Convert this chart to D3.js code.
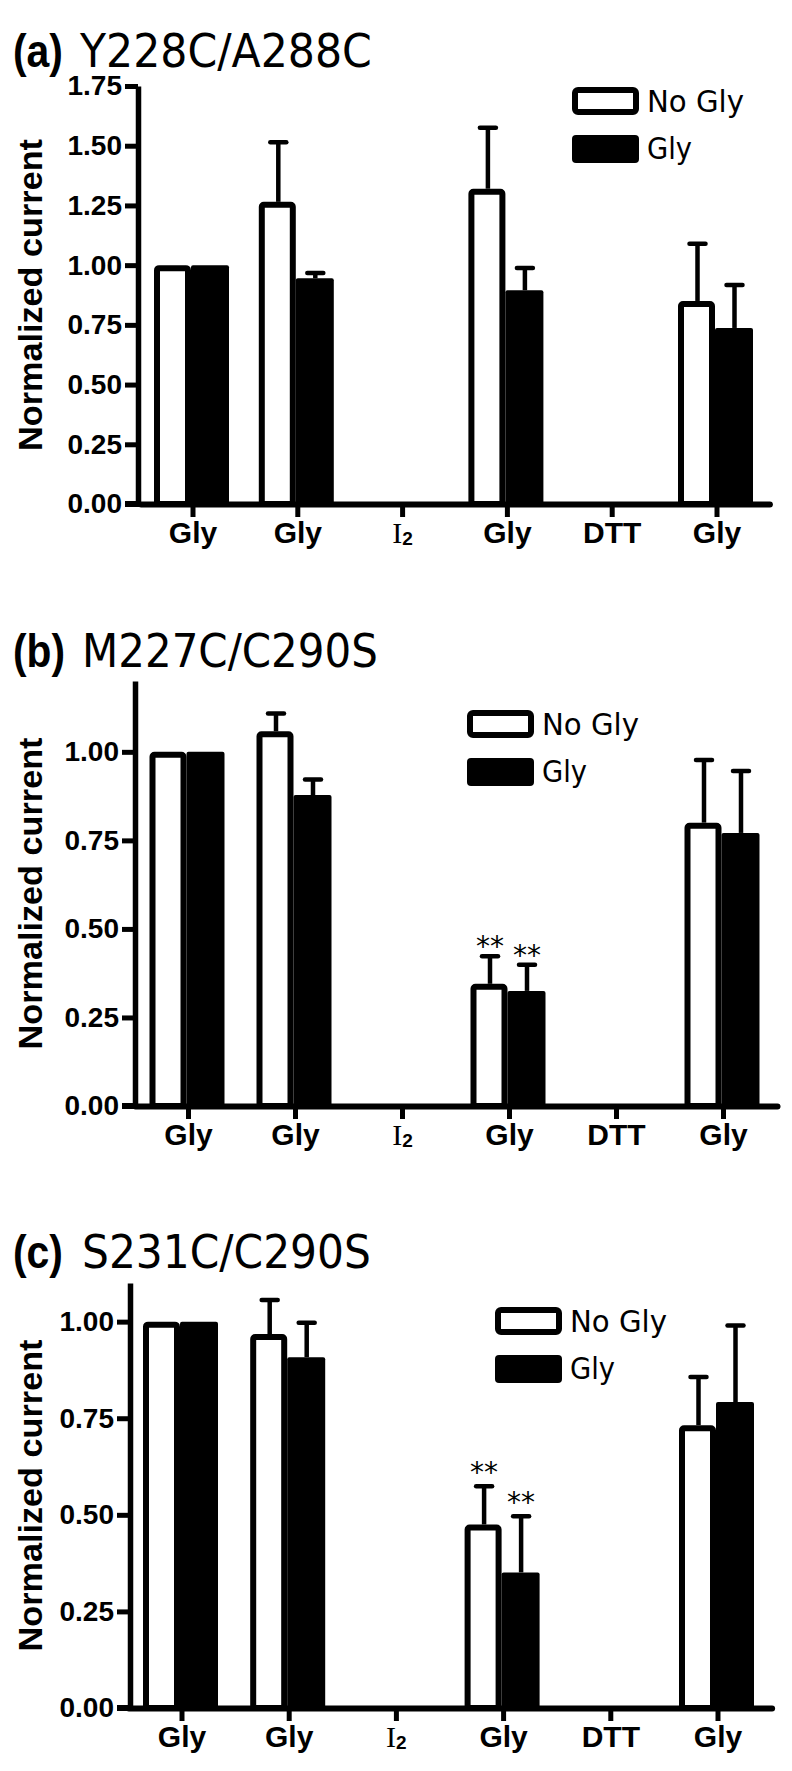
<!DOCTYPE html>
<html lang="en">
<head>
<meta charset="UTF-8">
<title>Normalized current</title>
<script src="https://d3js.org/d3.v7.min.js"></script>
<style>
  body { margin: 0; background: #fff; }
  svg { display: block; background: #fff; }
  .axis text { font-family: "Liberation Sans", Arial, sans-serif; font-weight: bold; fill: #000; }
  .axis path, .axis line { stroke: #000; }
</style>
</head>
<body>
<svg id="chart" width="792" height="1771"></svg>
<script>
// x categories (index 2 is I2, drawn with a subscript)
var categories = ["Gly", "Gly", "I2", "Gly", "DTT", "Gly"];
var series = ["No Gly", "Gly"];

// (a) Y228C/A288C
var aNoGly    = [1.00, 1.265, null, 1.32, null, 0.85];
var aNoGlyErr = [0, 0.25, null, 0.255, null, 0.24];
var aGly      = [1.00, 0.945, null, 0.895, null, 0.737];
var aGlyErr   = [0, 0.022, null, 0.093, null, 0.18];
var aStars    = ["", "", "", "", "", ""];
var aTicks    = [0, 0.25, 0.5, 0.75, 1.0, 1.25, 1.5, 1.75];

// (b) M227C/C290S
var bNoGly    = [1.00, 1.058, null, 0.345, null, 0.80];
var bNoGlyErr = [0, 0.05, null, 0.078, null, 0.177];
var bGly      = [1.00, 0.878, null, 0.325, null, 0.771];
var bGlyErr   = [0, 0.044, null, 0.074, null, 0.175];
var bStars    = ["", "", "", "**", "", ""];
var bTicks    = [0, 0.25, 0.5, 0.75, 1.0];

// (c) S231C/C290S
var cNoGly    = [1.00, 0.968, null, 0.475, null, 0.732];
var cNoGlyErr = [0, 0.088, null, 0.099, null, 0.125];
var cGly      = [1.00, 0.908, null, 0.351, null, 0.792];
var cGlyErr   = [0, 0.089, null, 0.145, null, 0.198];
var cStars    = ["", "", "", "**", "", ""];
var cTicks    = [0, 0.25, 0.5, 0.75, 1.0];

var panels = [
  {tag: "(a)", name: "Y228C/A288C", tagLen: 50, nameX: 80, nameLen: 292, titleY: 67,
   noGly: aNoGly, noGlyErr: aNoGlyErr, gly: aGly, glyErr: aGlyErr, stars: aStars,
   ticks: aTicks, yMax: 1.75, top: 86, bottom: 504, x0: 140.6, x1: 769.4, axisX: 138,
   legX: 572, legY: 87, starDy: 0},
  {tag: "(b)", name: "M227C/C290S", tagLen: 52, nameX: 82, nameLen: 296, titleY: 667,
   noGly: bNoGly, noGlyErr: bNoGlyErr, gly: bGly, glyErr: bGlyErr, stars: bStars,
   ticks: bTicks, yMax: 1.2, top: 681, bottom: 1106, x0: 135, x1: 777, axisX: 135,
   legX: 467, legY: 710, starDy: 0},
  {tag: "(c)", name: "S231C/C290S", tagLen: 50, nameX: 82, nameLen: 289, titleY: 1268,
   noGly: cNoGly, noGlyErr: cNoGlyErr, gly: cGly, glyErr: cGlyErr, stars: cStars,
   ticks: cTicks, yMax: 1.1, top: 1283, bottom: 1708, x0: 128.4, x1: 771.6, axisX: 130,
   legX: 495, legY: 1307, starDy: -4}
];

var svg = d3.select("#chart");
var bw = 37, sw = 6;

// squeeze a text horizontally to a target width (condensed look of the original)
function fitText(sel, x, y, width) {
  var w = sel.node().getComputedTextLength();
  sel.attr("transform", "translate(" + x + "," + y + ") scale(" + (width / w) + ",1)");
}

panels.forEach(function(p) {
  var g = svg.append("g");

  var x = d3.scaleBand().domain(d3.range(categories.length)).range([p.x0, p.x1]);
  var y = d3.scaleLinear().domain([0, p.yMax]).range([p.bottom, p.top]);
  var sub = d3.scaleOrdinal().domain(series).range([-bw - 2, -2]);

  // title
  var tag = g.append("text")
    .attr("font-family", "Liberation Sans").attr("font-weight", "bold").attr("font-size", 47)
    .text(p.tag);
  fitText(tag, 13, p.titleY, p.tagLen);
  var nm = g.append("text")
    .attr("font-family", "DejaVu Sans").attr("font-size", 47)
    .text(p.name);
  fitText(nm, p.nameX, p.titleY, p.nameLen);

  // y axis title
  g.append("text")
    .attr("transform", "translate(42," + (p.top + p.bottom) / 2 + ") rotate(-90)")
    .attr("text-anchor", "middle")
    .attr("font-family", "Liberation Sans").attr("font-weight", "bold").attr("font-size", 34)
    .attr("textLength", 312).attr("lengthAdjust", "spacingAndGlyphs")
    .text("Normalized current");

  // bars
  var rows = [];
  categories.forEach(function(c, i) {
    if (p.noGly[i] != null) rows.push({i: i, s: "No Gly", v: p.noGly[i], e: p.noGlyErr[i], star: p.stars[i]});
    if (p.gly[i] != null) rows.push({i: i, s: "Gly", v: p.gly[i], e: p.glyErr[i], star: p.stars[i]});
  });

  function cx(d) { return x(d.i) + x.bandwidth() / 2 + sub(d.s) + bw / 2 + 1; }

  // error bars (upper only)
  var eb = g.selectAll(".err").data(rows.filter(function(d) { return d.e > 0; })).enter().append("g");
  eb.append("line")
    .attr("x1", cx).attr("x2", cx)
    .attr("y1", function(d) { return y(d.v); })
    .attr("y2", function(d) { return y(d.v + d.e); })
    .attr("stroke", "#000").attr("stroke-width", 4.5);
  eb.append("line")
    .attr("x1", function(d) { return cx(d) - 8; }).attr("x2", function(d) { return cx(d) + 8; })
    .attr("y1", function(d) { return y(d.v + d.e); })
    .attr("y2", function(d) { return y(d.v + d.e); })
    .attr("stroke", "#000").attr("stroke-width", 4.5).attr("stroke-linecap", "round");

  g.selectAll(".bar").data(rows).enter().append("rect")
    .attr("x", function(d) {
      var left = x(d.i) + x.bandwidth() / 2 + sub(d.s);
      return d.s === "No Gly" ? left + sw / 2 : left;
    })
    .attr("y", function(d) { return d.s === "No Gly" ? y(d.v) + sw / 2 : y(d.v); })
    .attr("width", function(d) { return d.s === "No Gly" ? bw - sw : bw + 1; })
    .attr("height", function(d) { return y(0) - y(d.v) - (d.s === "No Gly" ? sw / 2 : 0); })
    .attr("rx", 2)
    .attr("fill", function(d) { return d.s === "No Gly" ? "#fff" : "#000"; })
    .attr("stroke", function(d) { return d.s === "No Gly" ? "#000" : "none"; })
    .attr("stroke-width", sw);

  // significance stars
  g.selectAll(".star").data(rows.filter(function(d) { return d.star; })).enter().append("text")
    .attr("x", cx)
    .attr("y", function(d) { return y(d.v + d.e) + p.starDy; })
    .attr("text-anchor", "middle")
    .attr("font-family", "DejaVu Sans").attr("font-size", 28)
    .text(function(d) { return d.star; });

  // axes
  var yAxis = g.append("g").attr("class", "axis")
    .attr("transform", "translate(" + p.axisX + ",0)")
    .call(d3.axisLeft(y).tickValues(p.ticks).tickFormat(d3.format(".2f"))
      .tickSize(13).tickSizeOuter(0).tickPadding(3));
  yAxis.select(".domain").attr("stroke-width", 5.5);
  yAxis.selectAll(".tick line").attr("stroke-width", 5);
  yAxis.selectAll(".tick text").attr("font-size", 28);

  var xAxis = g.append("g").attr("class", "axis")
    .attr("transform", "translate(0," + p.bottom + ")")
    .call(d3.axisBottom(x).tickFormat(function(i) { return categories[i]; })
      .tickSize(13).tickSizeOuter(0).tickPadding(5));
  xAxis.select(".domain").attr("stroke-width", 6).attr("stroke-linecap", "round");
  xAxis.selectAll(".tick line").attr("stroke-width", 5);
  xAxis.selectAll(".tick text").attr("font-size", 30);
  xAxis.selectAll(".tick text").filter(function(i) { return categories[i] === "I2"; })
    .each(function() {
      var t = d3.select(this).text("");
      t.append("tspan").attr("font-family", "Liberation Serif").attr("font-weight", "normal").text("I");
      t.append("tspan").attr("font-size", 19).attr("dy", 2).text("2");
    });
  // left end of the x axis meets the y axis
  g.append("line")
    .attr("x1", p.axisX - 13).attr("x2", p.x0)
    .attr("y1", p.bottom).attr("y2", p.bottom)
    .attr("stroke", "#000").attr("stroke-width", 6);

  // legend
  var leg = g.append("g").attr("transform", "translate(" + p.legX + "," + p.legY + ")");
  leg.append("rect").attr("x", sw / 2).attr("y", sw / 2).attr("width", 67 - sw).attr("height", 28 - sw)
    .attr("rx", 3).attr("fill", "#fff").attr("stroke", "#000").attr("stroke-width", sw);
  leg.append("rect").attr("x", 0).attr("y", 48).attr("width", 67).attr("height", 28)
    .attr("rx", 4).attr("fill", "#000");
  leg.append("text").attr("x", 75).attr("y", 25)
    .attr("font-family", "DejaVu Sans").attr("font-size", 30)
    .attr("textLength", 97).attr("lengthAdjust", "spacingAndGlyphs").text(series[0]);
  leg.append("text").attr("x", 75).attr("y", 72)
    .attr("font-family", "DejaVu Sans").attr("font-size", 30)
    .attr("textLength", 45).attr("lengthAdjust", "spacingAndGlyphs").text(series[1]);
});
</script>
</body>
</html>
